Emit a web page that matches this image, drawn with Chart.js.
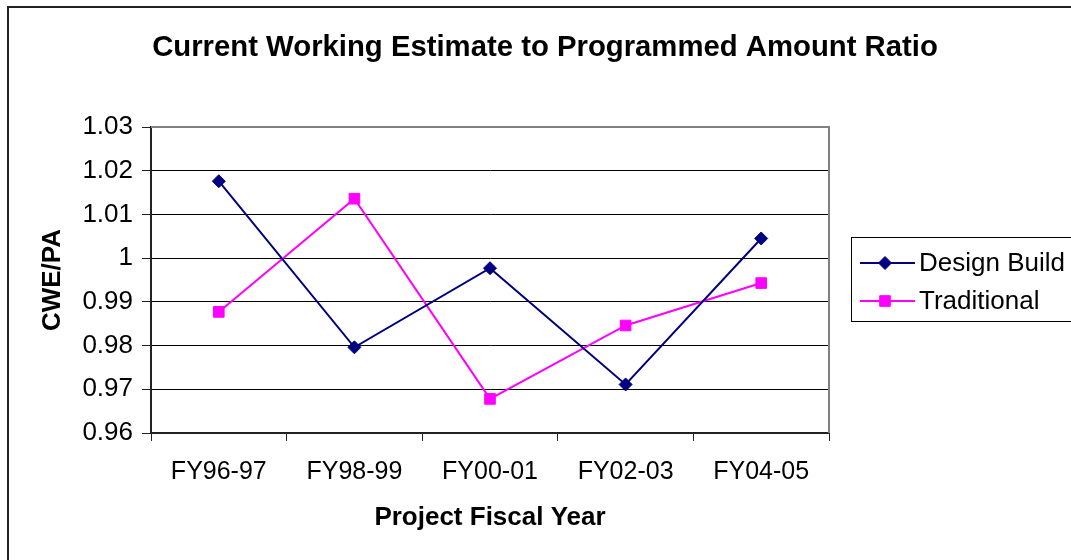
<!DOCTYPE html>
<html>
<head>
<meta charset="utf-8">
<script src="https://cdn.jsdelivr.net/npm/chart.js@4.4.1/dist/chart.umd.min.js"></script>
<style>
  html, body { margin: 0; padding: 0; background: #fff; }
  canvas { display: block; }
</style>
</head>
<body>
<canvas id="myChart" width="1071" height="560"></canvas>
<script>
// data
const categories = ['FY96-97', 'FY98-99', 'FY00-01', 'FY02-03', 'FY04-05'];
const designBuild = [1.0176, 0.9796, 0.9977, 0.9711, 1.0045];
const traditional = [0.9877, 1.0136, 0.9678, 0.9846, 0.9943];
const yTicks = [0.96, 0.97, 0.98, 0.99, 1.00, 1.01, 1.02, 1.03];

const chartTitle = 'Current Working Estimate to Programmed Amount Ratio';
const xTitle = 'Project Fiscal Year';
const yTitle = 'CWE/PA';

const FONT = "'Liberation Sans', Arial, sans-serif";

// frame, title and legend box drawn like the excel chart
const excelDecor = {
    id: 'excelDecor',
    afterDraw(chart) {
        const ctx = chart.ctx;
        const area = chart.chartArea;
        ctx.save();

        // outer chart border
        ctx.strokeStyle = '#222';
        ctx.lineWidth = 2;
        ctx.strokeRect(8, 7, 1090, 580);

        // plot frame top + right
        ctx.strokeStyle = '#808080';
        ctx.lineWidth = 2;
        ctx.beginPath();
        ctx.moveTo(area.left, area.top);
        ctx.lineTo(area.right, area.top);
        ctx.lineTo(area.right, area.bottom);
        ctx.stroke();

        // title
        ctx.fillStyle = '#000';
        ctx.font = 'bold 29.3px ' + FONT;
        ctx.textAlign = 'center';
        ctx.textBaseline = 'middle';
        ctx.fillText(chartTitle, 545, 48);

        // legend
        ctx.strokeStyle = '#000';
        ctx.lineWidth = 1;
        ctx.strokeRect(851.5, 237.5, 260, 84);
        const rows = [263, 301];
        chart.data.datasets.forEach((ds, i) => {
            const y = rows[i];
            ctx.strokeStyle = ds.borderColor;
            ctx.lineWidth = 2;
            ctx.beginPath();
            ctx.moveTo(860, y);
            ctx.lineTo(915, y);
            ctx.stroke();
            ctx.fillStyle = ds.backgroundColor;
            ctx.lineWidth = 1;
            Chart.helpers.drawPoint(ctx, {
                pointStyle: ds.pointStyle,
                radius: ds.pointRadius,
                rotation: 0,
                borderWidth: 1
            }, 885, y);
            ctx.fillStyle = '#000';
            ctx.font = '26px ' + FONT;
            ctx.textAlign = 'left';
            ctx.textBaseline = 'middle';
            ctx.fillText(ds.label, 919, y + 1);
        });
        ctx.restore();
    }
};

const data = {
    labels: categories,
    datasets: [{
        label: 'Design Build',
        data: designBuild,
        borderColor: '#000080',
        backgroundColor: '#000080',
        borderWidth: 2,
        pointStyle: 'rectRot',
        pointRadius: 6.5,
        pointBorderWidth: 1,
        tension: 0
    }, {
        label: 'Traditional',
        data: traditional,
        borderColor: '#FF00FF',
        backgroundColor: '#FF00FF',
        borderWidth: 2,
        pointStyle: 'rect',
        pointRadius: 7.5,
        pointBorderWidth: 1,
        tension: 0
    }]
};

const config = {
    type: 'line',
    data,
    options: {
        responsive: false,
        animation: false,
        devicePixelRatio: 1,
        layout: {
            padding: { left: 10, top: 127, right: 242, bottom: 0 }
        },
        plugins: {
            legend: { display: false },
            title: { display: false },
            tooltip: { enabled: false }
        },
        scales: {
            x: {
                offset: true,
                grid: {
                    offset: true,
                    drawOnChartArea: false,
                    tickLength: 8,
                    tickColor: '#222',
                    lineWidth: 1
                },
                border: { color: '#222', width: 2 },
                ticks: {
                    color: '#000',
                    padding: 16,
                    maxRotation: 0,
                    font: { family: FONT, size: 25 }
                },
                title: {
                    display: true,
                    text: xTitle,
                    color: '#000',
                    font: { family: FONT, size: 26, weight: 'bold' },
                    padding: { top: 0, bottom: 27 }
                },
                afterFit(scale) { scale.height = 127; }
            },
            y: {
                min: 0.96,
                max: 1.03,
                afterBuildTicks(scale) {
                    scale.ticks = yTicks.map(v => ({ value: v }));
                },
                grid: {
                    color: ctx => (ctx.tick && ctx.tick.value > 1.025) ? '#808080' : '#000',
                    tickColor: '#222',
                    tickLength: 9,
                    lineWidth: 1
                },
                border: { color: '#222', width: 2 },
                ticks: {
                    color: '#000',
                    padding: 9,
                    font: { family: FONT, size: 26 },
                    callback: v => String(parseFloat(v.toFixed(2)))
                },
                title: {
                    display: true,
                    text: yTitle,
                    color: '#000',
                    font: { family: FONT, size: 26, weight: 'bold' },
                    padding: { top: 27, bottom: 0 }
                },
                afterFit(scale) { scale.width = 141; }
            }
        }
    },
    plugins: [excelDecor]
};

const myChart = new Chart(document.getElementById('myChart'), config);
</script>
</body>
</html>
